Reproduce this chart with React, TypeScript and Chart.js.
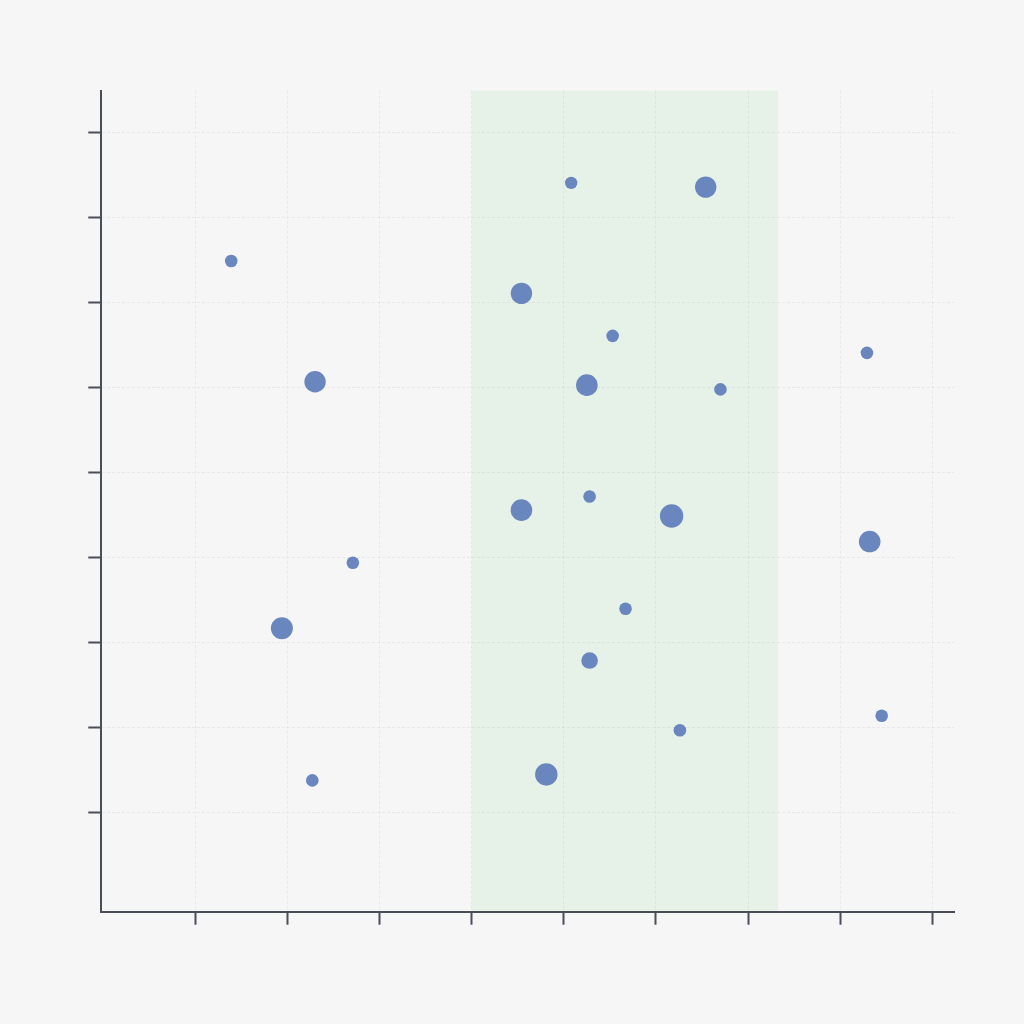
import React, { useEffect, useRef } from "react";
import { Chart, registerables } from "chart.js";

Chart.register(...registerables);

// ---- data ----
const xValues = [1.39, 2.3, 2.71, 1.94, 2.27, 5.08, 6.54, 4.54, 5.53, 5.25, 6.7, 8.29, 4.54, 5.28, 6.17, 8.32, 5.67, 5.28, 6.26, 8.45, 4.81];
const yValues = [7.49, 6.07, 3.94, 3.17, 1.38, 8.41, 8.36, 7.11, 6.61, 6.03, 5.98, 6.41, 4.56, 4.72, 4.49, 4.19, 3.4, 2.79, 1.97, 2.14, 1.45];
const rValues = [6.3, 10.7, 6.3, 11, 6.3, 6.2, 10.7, 10.7, 6.3, 10.8, 6.3, 6.3, 10.8, 6.3, 11.7, 10.8, 6.3, 8.3, 6.3, 6.3, 11.2];

const xTicks = [1, 2, 3, 4, 5, 6, 7, 8, 9];
const yTicks = [1, 2, 3, 4, 5, 6, 7, 8, 9];
const xRange = [-0.02, 9.235];
const yRange = [-0.165, 9.494];
const bandRange = [4.0, 7.325];

const AXIS_COLOR = "#4a4e58";
const POINT_COLOR = "#6a86bf";
const BAND_COLOR = "#e6f2e8";
const BG_COLOR = "#f6f6f6";
const GRID_COLOR = "rgba(0,0,0,0.05)";

export default function App() {
  const canvasRef = useRef<HTMLCanvasElement | null>(null);

  useEffect(() => {
    const canvas = canvasRef.current;
    if (!canvas) return;

    const bgPlugin = {
      id: "bgBand",
      beforeDraw(chart: any) {
        const { ctx, chartArea, scales } = chart;
        ctx.save();
        ctx.fillStyle = BG_COLOR;
        ctx.fillRect(0, 0, chart.width, chart.height);
        const x0 = scales.x.getPixelForValue(bandRange[0]);
        const x1 = scales.x.getPixelForValue(bandRange[1]);
        ctx.fillStyle = BAND_COLOR;
        ctx.fillRect(x0, chartArea.top, x1 - x0, chartArea.bottom - chartArea.top);
        ctx.restore();
      },
    };

    const data = xValues.map((x, i) => ({ x, y: yValues[i], r: rValues[i] }));

    const axisCommon = {
      grid: {
        color: GRID_COLOR,
        lineWidth: 1,
        tickColor: AXIS_COLOR,
        tickWidth: 2,
        tickLength: 13,
        tickBorderDash: [],
        drawTicks: true,
      },
      border: {
        display: true,
        color: AXIS_COLOR,
        width: 2,
        dash: [3, 2],
      },
      ticks: { display: false },
    };

    const chart = new Chart(canvas, {
      type: "bubble",
      data: {
        datasets: [
          {
            data,
            backgroundColor: POINT_COLOR,
            borderWidth: 0,
            hoverBorderWidth: 0,
          },
        ],
      },
      options: {
        animation: false,
        responsive: false,
        devicePixelRatio: 1,
        layout: { padding: { top: 90.7, right: 70, left: 0, bottom: 0 } },
        plugins: {
          legend: { display: false },
          tooltip: { enabled: false },
        },
        scales: {
          x: {
            type: "linear",
            min: xRange[0],
            max: xRange[1],
            ...axisCommon,
            afterBuildTicks: (scale: any) => {
              scale.ticks = xTicks.map((value) => ({ value }));
            },
            afterFit: (scale: any) => {
              scale.height = 112.3;
            },
          },
          y: {
            type: "linear",
            min: yRange[0],
            max: yRange[1],
            ...axisCommon,
            afterBuildTicks: (scale: any) => {
              scale.ticks = yTicks.map((value) => ({ value }));
            },
            afterFit: (scale: any) => {
              scale.width = 101.3;
            },
          },
        },
      } as any,
      plugins: [bgPlugin],
    });

    return () => chart.destroy();
  }, []);

  return (
    <div style={{ position: "absolute", left: 0, top: 0, width: 1024, height: 1024, background: BG_COLOR }}>
      <canvas ref={canvasRef} width={1024} height={1024} style={{ display: "block" }} />
    </div>
  );
}
